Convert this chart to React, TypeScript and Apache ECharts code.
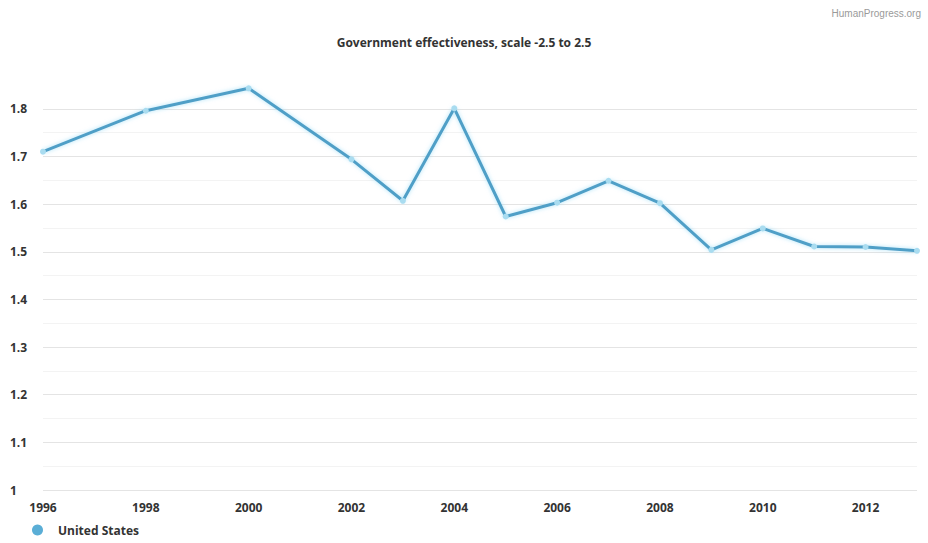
import React, { useEffect, useRef } from "react";
import * as echarts from "echarts";

const titleText = "Government effectiveness, scale -2.5 to 2.5";
const sourceText = "HumanProgress.org";
const seriesName = "United States";
const years = [1996, 1998, 2000, 2002, 2003, 2004, 2005, 2006, 2007, 2008, 2009, 2010, 2011, 2012, 2013];
const values = [1.71, 1.796, 1.843, 1.694, 1.607, 1.801, 1.574, 1.603, 1.649, 1.602, 1.504, 1.549, 1.511, 1.51, 1.502];

export default function App() {
  const ref = useRef<HTMLDivElement>(null);
  useEffect(() => {
    if (!ref.current) return;
    const chart = echarts.init(ref.current, undefined, { renderer: "svg" });
    const font = "'Open Sans', 'Noto Sans', sans-serif";
    chart.setOption({
      animation: false,
      backgroundColor: "#ffffff",
      title: [
        {
          text: titleText,
          left: "center",
          top: 31,
          textStyle: { fontFamily: font, fontSize: 12, fontWeight: "bold", color: "#333333" },
        },
        {
          text: sourceText,
          right: 2,
          top: 3,
          textStyle: { fontFamily: "'Liberation Sans', Arial, sans-serif", fontSize: 10, fontWeight: "normal", color: "#9a9a9a" },
        },
      ],
      grid: { left: 43, right: 11, top: 85, bottom: 53, containLabel: false },
      legend: {
        data: [{ name: seriesName, itemStyle: { color: "#5aaed6" } }],
        left: 27,
        top: 519,
        icon: "circle",
        itemWidth: 11,
        itemHeight: 11,
        textStyle: { fontFamily: font, fontSize: 12, fontWeight: "bold", color: "#333333", padding: [0, 0, 0, 10] },
      },
      xAxis: {
        type: "value",
        min: 1996,
        max: 2013,
        interval: 2,
        axisLine: { show: false },
        axisTick: { show: false },
        splitLine: { show: false },
        axisLabel: {
          showMaxLabel: false,
          margin: 11,
          fontFamily: font,
          fontSize: 12,
          fontWeight: "bold",
          color: "#333333",
          formatter: (v: number) => String(v),
        },
      },
      yAxis: {
        type: "value",
        min: 1,
        max: 1.85,
        interval: 0.1,
        axisLine: { show: false },
        axisTick: { show: false },
        axisLabel: {
          showMaxLabel: false,
          align: "left",
          margin: 33,
          fontFamily: font,
          fontSize: 12,
          fontWeight: "bold",
          color: "#333333",
          formatter: (v: number) => (Math.abs(v - 1) < 1e-9 ? "1" : v.toFixed(1)),
        },
        splitLine: { show: true, showMaxLine: false, lineStyle: { color: "#e4e4e4", width: 1 } },
        minorTick: { show: false, splitNumber: 2 },
        minorSplitLine: { show: true, lineStyle: { color: "#f3f3f3", width: 1 } },
      },
      series: [
        {
          name: seriesName,
          type: "line",
          data: years.map((y, i) => [y, values[i]]),
          symbol: "circle",
          symbolSize: 6,
          showSymbol: true,
          color: "#5aaad2",
          lineStyle: { color: "#4f9fc7", width: 3, shadowColor: "rgba(140,215,245,0.7)", shadowBlur: 4 },
          itemStyle: { color: "#a9dcf0", borderWidth: 0 },
        },
      ],
    });
    return () => chart.dispose();
  }, []);
  return <div ref={ref} style={{ position: "fixed", left: 0, top: 0, width: 928, height: 543 }} />;
}
